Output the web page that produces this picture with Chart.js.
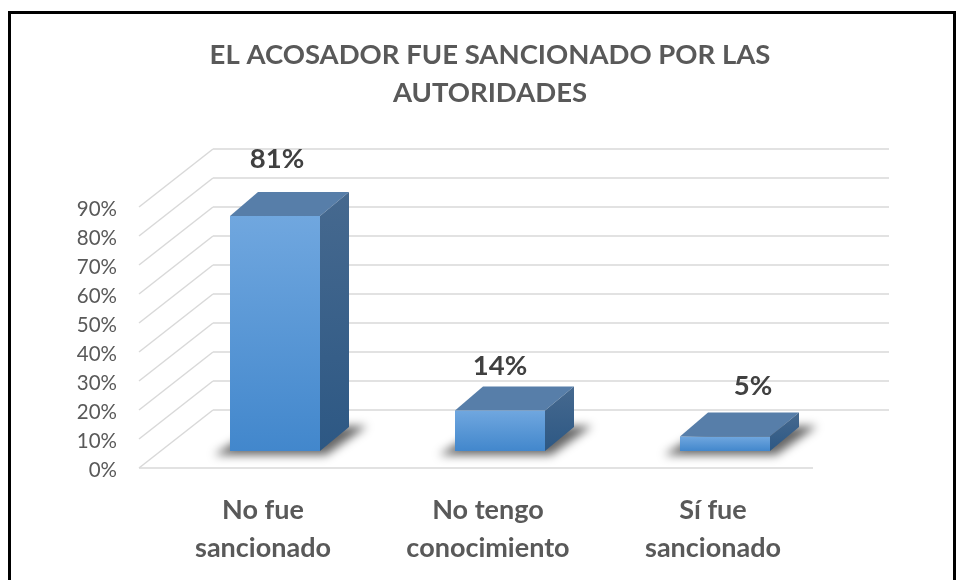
<!DOCTYPE html>
<html>
<head>
<meta charset="utf-8">
<script src="https://cdn.jsdelivr.net/npm/chart.js@4.4.1/dist/chart.umd.min.js"></script>
<style>
  html, body { margin: 0; padding: 0; background: #ffffff; }
  #c { display: block; }
</style>
</head>
<body>
<canvas id="c" width="957" height="580"></canvas>
<script>
// ---- data ----
const chartTitle = ["EL ACOSADOR FUE SANCIONADO POR LAS", "AUTORIDADES"];
const categories = [["No fue", "sancionado"], ["No tengo", "conocimiento"], ["Sí fue", "sancionado"]];
const values = [81, 14, 5];
const yTickValues = [0, 10, 20, 30, 40, 50, 60, 70, 80, 90];
const yTickLabels = ["0%", "10%", "20%", "30%", "40%", "50%", "60%", "70%", "80%", "90%"];
const valueLabels = ["81%", "14%", "5%"];

// ---- style / geometry of the 3D look ----
const TXT = "#595959";
const LABEL = "#404040";
const GRID = "#d9d9d9";
const BACK_L = 213, BACK_R = 889, FRONT_L = 139, FRONT_R = 813;
const BACK_DY = -41, FRONT_DY = 17;     // offsets of walls from the bar plane
const DEPTH_X = 29, DEPTH_Y = -24;      // bar depth
const labelNudge = [[2, -9], [0, 4], [28, -2]];
const FONT = "Lato, 'Open Sans', 'DejaVu Sans', sans-serif";

function frontGradient(ctx, top, bottom) {
  const g = ctx.createLinearGradient(0, top, 0, bottom);
  g.addColorStop(0, "#70a7df");
  g.addColorStop(1, "#4287cc");
  return g;
}

const excel3d = {
  id: "excel3d",
  beforeDraw(chart) {
    const ctx = chart.ctx;
    ctx.save();
    ctx.fillStyle = "#ffffff";
    ctx.fillRect(0, 0, chart.width, chart.height);
    // frame
    ctx.strokeStyle = "#000000";
    ctx.lineWidth = 3;
    ctx.strokeRect(9.5, 12.5, 945, 620);
    // title
    ctx.fillStyle = TXT;
    ctx.font = "bold 27.5px " + FONT;
    ctx.textAlign = "center";
    ctx.textBaseline = "middle";
    ctx.fillText(chartTitle[0], 490, 55);
    ctx.fillText(chartTitle[1], 490, 93);
    ctx.restore();
  },
  beforeDatasetsDraw(chart) {
    const ctx = chart.ctx;
    const ys = chart.scales.y;
    const xs = chart.scales.x;
    ctx.save();
    ctx.strokeStyle = GRID;
    ctx.lineWidth = 1.5;
    yTickValues.forEach(v => {
      const yp = ys.getPixelForValue(v);
      const yb = yp + BACK_DY, yf = yp + FRONT_DY;
      ctx.beginPath();
      ctx.moveTo(BACK_L, yb); ctx.lineTo(BACK_R, yb);
      ctx.moveTo(FRONT_L, yf); ctx.lineTo(BACK_L, yb);
      ctx.stroke();
    });
    const y0 = ys.getPixelForValue(0) + FRONT_DY;
    ctx.beginPath();
    ctx.moveTo(FRONT_L, y0); ctx.lineTo(FRONT_R, y0);
    ctx.stroke();

    // tick labels
    ctx.fillStyle = TXT;
    ctx.font = "20.5px " + FONT;
    ctx.textAlign = "right";
    ctx.textBaseline = "middle";
    yTickValues.forEach((v, i) => {
      ctx.fillText(yTickLabels[i], 117, ys.getPixelForValue(v) + FRONT_DY + 2);
    });

    // category labels
    ctx.font = "bold 27px " + FONT;
    ctx.textAlign = "center";
    categories.forEach((lines, i) => {
      const cx = xs.getPixelForValue(i) - 12;
      lines.forEach((t, j) => ctx.fillText(t, cx, 510 + j * 38));
    });

    // floor shadows
    const meta = chart.getDatasetMeta(0);
    meta.data.forEach(bar => {
      const L = bar.x - bar.width / 2, R = bar.x + bar.width / 2, B = bar.base;
      ctx.save();
      ctx.filter = "blur(5px)";
      ctx.fillStyle = "rgba(0,0,0,0.6)";
      ctx.beginPath();
      ctx.moveTo(L - 16, B + 4);
      ctx.lineTo(R + 6, B + 4);
      ctx.lineTo(R + DEPTH_X + 18, B + DEPTH_Y - 1);
      ctx.lineTo(L + DEPTH_X, B + DEPTH_Y);
      ctx.closePath();
      ctx.fill();
      ctx.restore();
    });
    ctx.restore();
  },
  afterDatasetsDraw(chart) {
    const ctx = chart.ctx;
    const meta = chart.getDatasetMeta(0);
    ctx.save();
    meta.data.forEach((bar, i) => {
      const L = bar.x - bar.width / 2, R = bar.x + bar.width / 2;
      const T = bar.y, B = bar.base;
      // top face
      ctx.fillStyle = "#577ea9";
      ctx.beginPath();
      ctx.moveTo(L, T); ctx.lineTo(R, T);
      ctx.lineTo(R + DEPTH_X, T + DEPTH_Y); ctx.lineTo(L + DEPTH_X - 1, T + DEPTH_Y);
      ctx.closePath(); ctx.fill();
      // side face
      const g = ctx.createLinearGradient(0, T + DEPTH_Y, 0, B);
      g.addColorStop(0, "#46698f");
      g.addColorStop(1, "#2d5884");
      ctx.fillStyle = g;
      ctx.beginPath();
      ctx.moveTo(R, T); ctx.lineTo(R + DEPTH_X, T + DEPTH_Y);
      ctx.lineTo(R + DEPTH_X, B + DEPTH_Y); ctx.lineTo(R, B);
      ctx.closePath(); ctx.fill();
      // value label
      ctx.fillStyle = LABEL;
      ctx.font = "bold 27.5px " + FONT;
      ctx.textAlign = "center";
      ctx.textBaseline = "middle";
      ctx.fillText(valueLabels[i], bar.x + labelNudge[i][0], T + DEPTH_Y - 24 + labelNudge[i][1]);
    });
    ctx.restore();
  }
};

new Chart(document.getElementById("c"), {
  type: "bar",
  data: {
    labels: categories,
    datasets: [{
      data: values,
      backgroundColor: (c) => {
        const ch = c.chart;
        if (!ch.chartArea || c.dataIndex === undefined) return "#5b9bd5";
        const ys = ch.scales.y;
        return frontGradient(ch.ctx, ys.getPixelForValue(c.raw), ys.getPixelForValue(0));
      },
      borderWidth: 0,
      barPercentage: 0.4,
      categoryPercentage: 1.0
    }]
  },
  options: {
    responsive: false,
    animation: false,
    devicePixelRatio: 1,
    layout: { padding: { left: 162.5, right: 119.5, top: 190, bottom: 129 } },
    scales: {
      x: { display: false },
      y: { display: false, min: 0, max: 90 }
    },
    plugins: {
      legend: { display: false },
      tooltip: { enabled: false },
      title: { display: false }
    }
  },
  plugins: [excel3d]
});
</script>
</body>
</html>
